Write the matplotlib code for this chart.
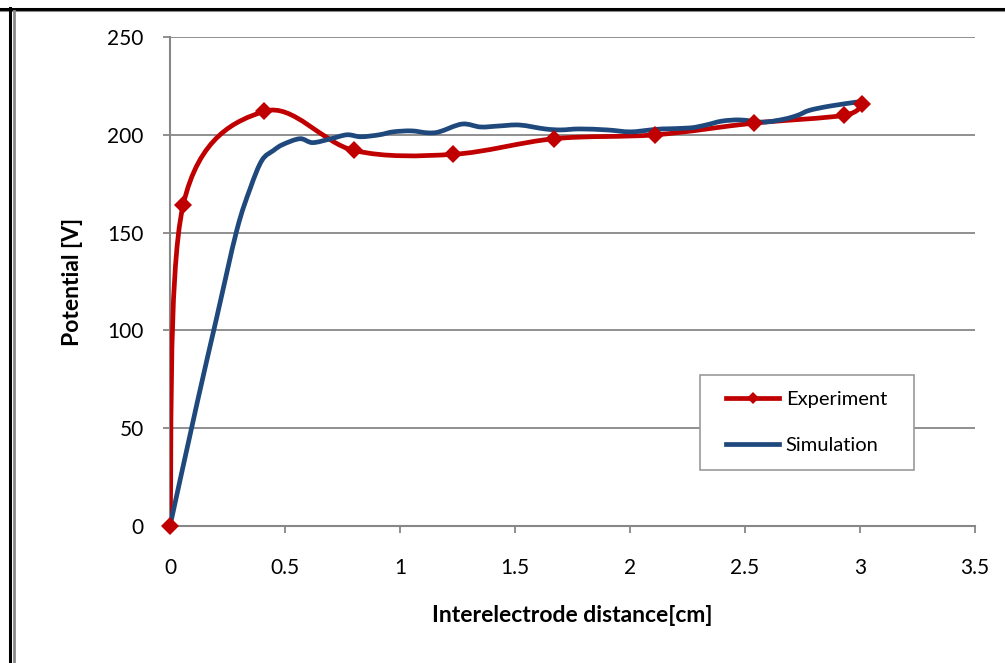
import numpy as np
import matplotlib
matplotlib.use("Agg")
import matplotlib.pyplot as plt
from matplotlib.path import Path
from matplotlib.patches import PathPatch, Rectangle
from matplotlib.lines import Line2D

plt.rcParams['font.family'] = ['Lato', 'DejaVu Sans']

# Measured potential along the gap
exp_x = [0.0, 0.057, 0.41, 0.80, 1.23, 1.67, 2.11, 2.54, 2.93, 3.01]
exp_y = [0, 164, 212, 192, 190, 198, 200, 206, 210, 216]

# Simulated potential profile
sim_x = [0.0, 0.12, 0.20, 0.29, 0.35, 0.40, 0.45, 0.49, 0.565, 0.62, 0.70,
         0.77, 0.83, 0.91, 0.97, 1.05, 1.12, 1.17, 1.27, 1.35,
         1.43, 1.52, 1.63, 1.70, 1.78, 1.90, 2.00, 2.09, 2.14, 2.26,
         2.33, 2.40, 2.48, 2.58, 2.67, 2.73, 2.78, 2.87, 2.99]
sim_y = [0, 64, 105, 151, 173, 187, 192, 195, 198, 196, 198,
         200, 199, 200, 201.5, 202, 201, 201.5, 205.5, 204,
         204.5, 205, 203, 202.5, 203, 202.5, 201.5, 202.5, 203, 203.5,
         205, 207, 207.6, 206.5, 208, 210, 212.5, 214.7, 216.8]

x_ticks = [0, 0.5, 1, 1.5, 2, 2.5, 3, 3.5]
x_tick_labels = ['0', '0.5', '1', '1.5', '2', '2.5', '3', '3.5']
y_ticks = [0, 50, 100, 150, 200, 250]

RED = '#C00000'
BLUE = '#1F497D'
GRID = '#878787'


def smooth_path(xs, ys):
    """Spreadsheet-style smoothed line: cubic Bezier through every point."""
    pts = np.column_stack([xs, ys]).astype(float)
    verts = [pts[0]]
    codes = [Path.MOVETO]
    n = len(pts)
    for i in range(n - 1):
        p0 = pts[i - 1] if i > 0 else pts[i]
        p1 = pts[i]
        p2 = pts[i + 1]
        p3 = pts[i + 2] if i + 2 < n else pts[i + 1]
        verts += [p1 + (p2 - p0) / 6.0, p2 - (p3 - p1) / 6.0, p2]
        codes += [Path.CURVE4] * 3
    return Path(verts, codes)


fig = plt.figure(figsize=(10.05, 6.63), dpi=100)
W, H = 1005, 663
ax = fig.add_axes([170 / W, 1 - 526 / H, 805 / W, 489 / H])

ax.set_xlim(0, 3.5)
ax.set_ylim(0, 250)

ax.add_patch(PathPatch(smooth_path(exp_x, exp_y), fill=False, edgecolor=RED,
                       lw=3.4, capstyle='round', joinstyle='round', zorder=3))
ax.add_patch(PathPatch(smooth_path(sim_x, sim_y), fill=False, edgecolor=BLUE,
                       lw=3.4, capstyle='round', joinstyle='round', zorder=4))
ax.plot(exp_x, exp_y, ls='none', marker='D', ms=9, color=RED,
        markeredgewidth=0, zorder=5, clip_on=False)

ax.set_xticks(x_ticks)
ax.set_xticklabels(x_tick_labels)
ax.set_yticks(y_ticks)
ax.yaxis.grid(True, color=GRID, lw=1.3)
ax.set_axisbelow(True)
for side in ('top', 'right'):
    ax.spines[side].set_visible(False)
for side in ('left', 'bottom'):
    ax.spines[side].set_color(GRID)
    ax.spines[side].set_linewidth(1.5)
ax.tick_params(axis='both', direction='out', length=5, width=1.3,
               color=GRID, labelsize=15, labelcolor='black')
ax.tick_params(axis='y', pad=14)
ax.tick_params(axis='x', pad=18)

ax.set_xlabel('Interelectrode distance[cm]', fontsize=16.5, fontweight='bold')
ax.set_ylabel('Potential [V]', fontsize=16.5, fontweight='bold')
ax.xaxis.set_label_coords(0.5, -0.162)
ax.yaxis.set_label_coords(-0.108, 0.5)

# legend box drawn separately so its size can be set
ax.add_patch(Rectangle((0.658, 0.1145), 0.266, 0.194, transform=ax.transAxes,
                       facecolor='white', edgecolor='#9a9a9a', lw=1.2, zorder=6))
handles = [Line2D([], [], color=RED, lw=3.4, marker='D', ms=6.5, markeredgewidth=0),
           Line2D([], [], color=BLUE, lw=3.4)]
leg = ax.legend(handles, ['Experiment', 'Simulation'], loc='center',
                bbox_to_anchor=(0.791, 0.2117), frameon=False, fontsize=14.5,
                handlelength=2.6, handletextpad=0.35, labelspacing=1.45)
leg.set_zorder(7)

# outer chart frame
fig.add_artist(Line2D([0, 1], [1 - 9 / H, 1 - 9 / H], color='black', lw=2.2))
fig.add_artist(Line2D([0, 1], [1 - 11 / H, 1 - 11 / H], color='#8a8a8a', lw=0.8))
fig.add_artist(Line2D([10 / W, 10 / W], [0, 1 - 8 / H], color='black', lw=2.2))
fig.add_artist(Line2D([14 / W, 14 / W], [0, 1 - 11 / H], color='#8a8a8a', lw=2.0))

fig.savefig('out.png', dpi=100)
